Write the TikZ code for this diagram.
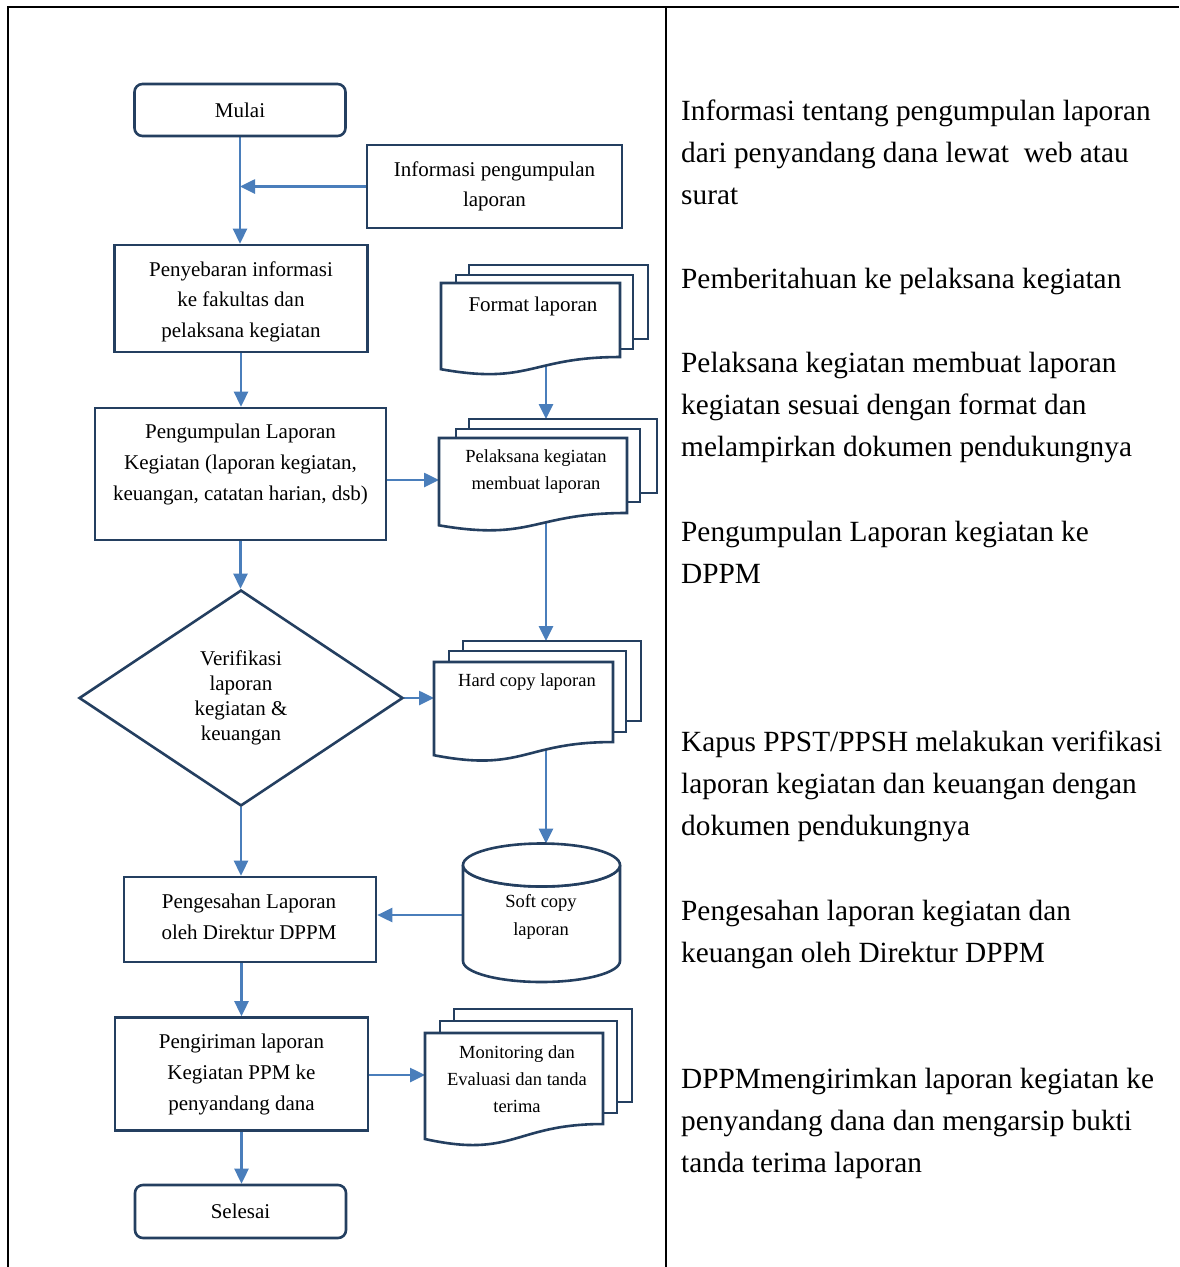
\documentclass[tikz,border=0pt]{standalone}
\usepackage{fontspec}
\setmainfont{Liberation Serif}
\usetikzlibrary{arrows.meta,shapes.geometric,calc}
\definecolor{boxline}{HTML}{243F60}
\definecolor{flowblue}{HTML}{4A7EBB}
\pgfdeclarelayer{bg}
\pgfsetlayers{bg,main}

% back sheet of a stacked document: left, right, top, bottom
\newcommand{\sheetback}[4]{\draw[docline] (#1,#3) rectangle (#2,#4);}
% front sheet with wavy lower edge: left, right, top, height
\newcommand{\sheetfront}[4]{%
  \draw[docline] (#1,#3) -- (#2,#3) -- (#2,{#3+0.802*#4})
    .. controls ({(#1+#2)/2},{#3+0.802*#4}) and ({(#1+#2)/2},{#3+1.1075*#4})
    .. (#1,{#3+0.934*#4}) -- cycle;}

\begin{document}
\begin{tikzpicture}[x=1pt,y=-1pt,
  box/.style={draw=boxline, line width=2.6pt, fill=white, inner sep=0pt,
    align=center, font=\fontsize{21}{30.5}\selectfont},
  term/.style={box, rounded corners=8pt},
  lbl/.style={inner sep=0pt, align=center, font=\fontsize{21}{30.5}\selectfont},
  small/.style={inner sep=0pt, align=center, font=\fontsize{18.5}{27}\selectfont},
  docline/.style={draw=boxline, line width=2.6pt, fill=white, line join=miter},
  arr/.style={draw=flowblue, line width=2.6pt, -{Triangle[length=15pt,width=14pt]}},
  tableline/.style={draw=black, line width=2pt},
  note/.style={anchor=north west, inner sep=0pt, align=left,
    font=\fontsize{29.3}{42.1}\selectfont}]

\useasboundingbox (0,0) rectangle (1179,1267);

% table frame
\draw[tableline] (8,1267) -- (8,7) -- (1179,7);
\draw[tableline] (666,7) -- (666,1267);

% main column
\node[term, minimum width=211pt, minimum height=52pt] (start) at (240,110) {Mulai};
\node[box, minimum width=255pt, minimum height=83pt] (info) at (494.5,186.5)
  {Informasi pengumpulan\\laporan};
\node[box, minimum width=253pt, minimum height=107pt] (spread) at (241,298.5) {};
\node[lbl] (spreadtext) at (241,301.5)
  {Penyebaran informasi\\ke fakultas dan\\pelaksana kegiatan};
\node[box, minimum width=291pt, minimum height=132pt] (collect) at (240.5,474) {};
\node[lbl, font=\fontsize{21}{31}\selectfont] (collecttext) at (240.5,464)
  {Pengumpulan Laporan\\Kegiatan (laporan kegiatan,\\keuangan, catatan harian, dsb)};
\node[diamond, draw=boxline, line width=2.6pt, fill=white, inner sep=0pt,
  minimum width=324pt, minimum height=216pt, align=center,
  font=\fontsize{21}{25}\selectfont] (verify) at (241,698)
  {Verifikasi\\laporan\\kegiatan \&\\keuangan};
\node[box, minimum width=252pt, minimum height=85pt] (approve) at (250,919.5) {};
\node[lbl, font=\fontsize{21}{31}\selectfont] (approvetext) at (249,917)
  {Pengesahan Laporan\\oleh Direktur DPPM};
\node[box, font=\fontsize{21}{31}\selectfont, minimum width=253pt, minimum height=113pt]
  (send) at (241.5,1074) {Pengiriman laporan\\Kegiatan PPM ke\\penyandang dana};
\node[term, minimum width=211pt, minimum height=53pt] (stop) at (240.5,1211.5) {Selesai};

% report template
\sheetback{469}{648}{265}{339}
\sheetback{456}{633}{275}{349}
\sheetfront{441}{620}{283}{92.3}
\node[lbl] (format) at (533,306) {Format laporan};

% report written by the implementers
\sheetback{469}{657}{419}{493}
\sheetback{456}{640}{429}{502}
\sheetfront{439}{627}{438}{93.5}
\node[small] (draft) at (536,472) {Pelaksana kegiatan\\membuat laporan};

% printed copy
\sheetback{463}{641}{641}{721}
\sheetback{449}{626}{651}{732}
\sheetfront{434}{613}{662}{99.8}
\node[small] (hard) at (527,682) {Hard copy laporan};

% monitoring and receipt
\sheetback{454}{632}{1009}{1102}
\sheetback{440}{617}{1021}{1113}
\sheetfront{425}{603}{1033}{113.5}
\node[small] (monitor) at (517,1079) {Monitoring dan\\Evaluasi dan tanda\\terima};

% digital copy (stored data)
\draw[docline] (463,865) -- (463,961)
  arc[start angle=180, end angle=0, x radius=78.5, y radius=21] -- (620,865)
  arc[start angle=0, end angle=180, x radius=78.5, y radius=21.5] -- cycle;
\draw[docline] (541.5,865) ellipse[x radius=78.5, y radius=21.5];
\node[small, font=\fontsize{18.5}{28}\selectfont] (soft) at (541,917) {Soft copy\\laporan};

% connection points on the document shapes
\coordinate (formatout) at (546,360);
\coordinate (draftin) at (546,419);
\coordinate (draftleft) at (439,480);
\coordinate (draftout) at (546,505);
\coordinate (hardin) at (546,641);
\coordinate (hardleft) at (434,698);
\coordinate (hardout) at (546,745);
\coordinate (softtop) at (546,843.5);
\coordinate (softleft) at (463,915);
\coordinate (monitorleft) at (425,1075);

\begin{pgfonlayer}{bg}
\draw[arr] (start.south) -- (start.south |- spread.north);
\draw[arr] (info.west) -- (info.west -| start.south);
\draw[arr] (spread.south) -- (spread.south |- collect.north);
\draw[arr] (collect.south) -- (collect.south |- verify.north);
\draw[arr] (verify.south) -- (verify.south |- approve.north);
\draw[arr] (send.north |- approve.south) -- (send.north);
\draw[arr] (send.south) -- (send.south |- stop.north);
\draw[arr] (collect.east |- draftleft) -- (draftleft);
\draw[arr] (formatout) -- (draftin);
\draw[arr] (draftout) -- (hardin);
\draw[arr] (verify.east) -- (hardleft);
\draw[arr] (hardout) -- (softtop);
\draw[arr] (softleft) -- (softleft -| approve.east);
\draw[arr] (send.east |- monitorleft) -- (monitorleft);
\end{pgfonlayer}

% descriptions
\node[note] (n1) at (681,90.5) {\strut Informasi tentang pengumpulan laporan\\dari penyandang dana lewat \ web atau\\surat};
\node[note] (n2) at (681,258.9) {\strut Pemberitahuan ke pelaksana kegiatan};
\node[note] (n3) at (681,343.1) {\strut Pelaksana kegiatan membuat laporan\\kegiatan sesuai dengan format dan\\melampirkan dokumen pendukungnya};
\node[note] (n4) at (681,511.5) {\strut Pengumpulan Laporan kegiatan ke\\DPPM};
\node[note] (n5) at (681,722) {\strut Kapus PPST/PPSH melakukan verifikasi\\laporan kegiatan dan keuangan dengan\\dokumen pendukungnya};
\node[note] (n6) at (681,890.4) {\strut Pengesahan laporan kegiatan dan\\keuangan oleh Direktur DPPM};
\node[note] (n7) at (681,1058.8) {\strut DPPMmengirimkan laporan kegiatan ke\\penyandang dana dan mengarsip bukti\\tanda terima laporan};
\end{tikzpicture}
\end{document}
